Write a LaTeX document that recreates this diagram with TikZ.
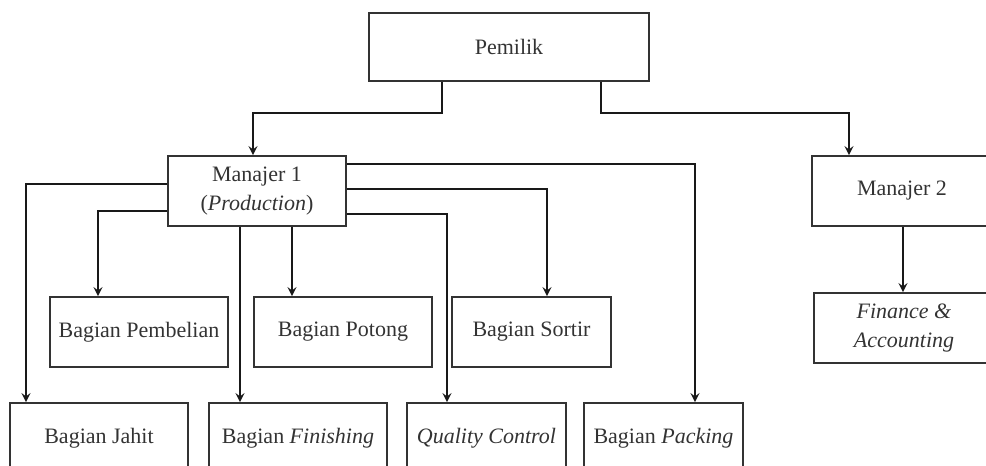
\documentclass[tikz,border=0pt]{standalone}
\usepackage{fontspec}
\setmainfont{Liberation Serif}
\usepackage{tikz}
\usetikzlibrary{arrows,shapes,positioning,calc}
\tikzstyle{box}=[rectangle, draw=black!80, line width=0.8pt, minimum width=89pt, minimum height=35pt, inner sep=2pt, align=center, text=black!80, font=\fontsize{11}{14.5}\selectfont]
\tikzstyle{narrow}=[box, minimum width=79.5pt]
\tikzstyle{link}=[line width=1pt, black!90]

\begin{document}
\begin{tikzpicture}[x=0.5pt, y=-0.5pt, >=stealth]
				\useasboundingbox (0,0) rectangle (986,466);
				\clip (0,0) rectangle (986,466);
				\node[box, minimum width=140pt, minimum height=34pt](pem)at(509,47){Pemilik};
				\node[box](m1)at(257,191){Manajer 1\\(\textit{Production})};
				\node[box, minimum width=90pt](m2)at(902,191){Manajer 2};
				\node[box](beli)at(139,332){Bagian Pembelian};
				\node[box](ptg)at(343,332){Bagian Potong};
				\node[narrow](srt)at(531.5,332){Bagian Sortir};
				\node[box, minimum width=90pt](fin)at(904,328){\textit{Finance \&}\\\textit{Accounting}};
				\node[box](jht)at(99,438){Bagian Jahit};
				\node[box](fns)at(298,438){Bagian \textit{Finishing}};
				\node[narrow](qc)at(486.5,438){\textit{Quality Control}};
				\node[narrow](pck)at(663.5,438){Bagian \textit{Packing}};
				\draw[->, link]([xshift=-33.5pt]pem.south)--++(0,31)-|([xshift=-2pt]m1.north);
				\draw[->, link]([xshift=46pt]pem.south)--++(0,31)-|([xshift=-26.5pt]m2.north);
				\draw[->, link]([yshift=3.5pt]m1.west)-|([xshift=-36.5pt]jht.north);
				\draw[->, link]([yshift=-10pt]m1.west)-|([xshift=-20.5pt]beli.north);
				\draw[->, link]([xshift=-8.5pt]m1.south)--([xshift=-29pt]fns.north);
				\draw[->, link]([xshift=17.5pt]m1.south)--([xshift=-25.5pt]ptg.north);
				\draw[->, link]([yshift=13.5pt]m1.east)-|([xshift=15.75pt]pck.north);
				\draw[->, link]([yshift=1pt]m1.east)-|([xshift=7.75pt]srt.north);
				\draw[->, link]([yshift=-11.5pt]m1.east)-|([xshift=-19.75pt]qc.north);
				\draw[->, link]([xshift=0.5pt]m2.south)--([xshift=-0.5pt]fin.north);
			\end{tikzpicture}
\end{document}
